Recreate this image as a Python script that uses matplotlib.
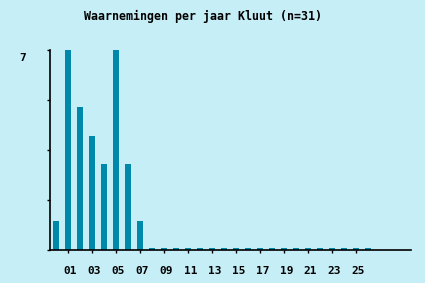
import matplotlib
matplotlib.use("Agg")
import matplotlib.pyplot as plt
import matplotlib.transforms as mtransforms
import numpy as np

years = ["%02d" % i for i in range(27)]
counts = [1, 7, 5, 4, 3, 7, 3, 1] + [0] * 19
title = "Waarnemingen per jaar Kluut (n=31)"
ytick_vals = [0, 1.75, 3.5, 5.25, 7]
ytick_labels = ["", "", "", "", "7"]

bg = "#c6eef7"
bar_color = "#0088aa"

fig = plt.figure(figsize=(4.25, 2.83), dpi=100, facecolor=bg)
ax = fig.add_axes([50/425, 33/283, 361/425, 200/283], facecolor=bg)

x = np.arange(len(years))
vals = np.array(counts, dtype=float)
disp = np.maximum(vals, 0.06)
ax.bar(x, disp, width=0.45, color=bar_color, linewidth=0)

ax.set_xlim(-0.5, 29.58)
ax.set_ylim(0, 7)

ax.set_xticks(x[1::2])
ax.set_xticklabels(years[1::2], fontfamily="DejaVu Sans Mono",
                   fontweight="bold", fontsize=8)
ax.set_yticks(ytick_vals)
ax.set_yticklabels(ytick_labels, fontfamily="DejaVu Sans Mono",
                   fontweight="bold", fontsize=8)
ax.tick_params(axis="x", direction="out", length=2.5, width=1, pad=9, color="black")
ax.tick_params(axis="y", direction="out", length=2.5, width=1, pad=14.5, color="black")
offy = mtransforms.ScaledTranslation(-0.0, -7/100, fig.dpi_scale_trans)
for lab in ax.get_yticklabels():
    lab.set_transform(lab.get_transform() + offy)
offx = mtransforms.ScaledTranslation(2.5/100, 0, fig.dpi_scale_trans)
for lab in ax.get_xticklabels():
    lab.set_transform(lab.get_transform() + offx)

for s in ["top", "right"]:
    ax.spines[s].set_visible(False)
for s in ["left", "bottom"]:
    ax.spines[s].set_color("black")
    ax.spines[s].set_linewidth(1.2)

fig.text(203/425, 1 - 16/283, title, ha="center", va="center",
         fontfamily="DejaVu Sans Mono", fontweight="bold", fontsize=8.4)

fig.savefig("out.png", dpi=100, facecolor=bg)
